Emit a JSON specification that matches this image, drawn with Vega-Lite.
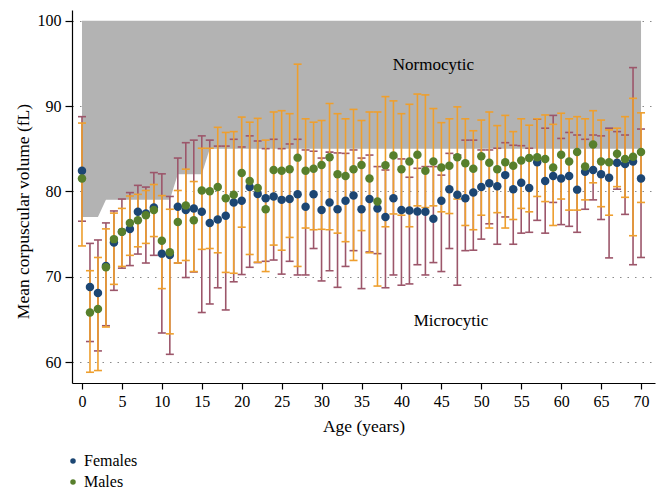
{
  "$schema": "https://vega.github.io/schema/vega-lite/v6.json",
  "width": 583,
  "height": 373,
  "autosize": "none",
  "padding": {"left": 72, "top": 10, "right": 10, "bottom": 113},
  "background": "white",
  "config": {
    "view": {"stroke": null},
    "font": "Liberation Serif",
    "axis": {"labelFont": "Liberation Serif", "titleFont": "Liberation Serif", "labelColor": "black", "titleColor": "black", "domainColor": "black", "tickColor": "black", "titleFontWeight": "normal", "labelFontSize": 16, "titleFontSize": 17.5, "domainWidth": 1.2, "tickWidth": 1.2}
  },
  "datasets": {
    "normo": [
      {"age": 0, "lower": 77}, {"age": 2, "lower": 77}, {"age": 3, "lower": 79}, {"age": 11, "lower": 79},
      {"age": 12, "lower": 82}, {"age": 15, "lower": 82}, {"age": 16, "lower": 85}, {"age": 70, "lower": 85}
    ],
    "labels": [
      {"age": 44, "mcv": 94.8, "label": "Normocytic"},
      {"age": 46.2, "mcv": 64.8, "label": "Microcytic"}
    ],
    "mcv": [
      {"age":0,"sex":"Females","mcv":82.4,"lo":76.5,"hi":88.75},
      {"age":1,"sex":"Females","mcv":68.8,"lo":62.4,"hi":73.9},
      {"age":2,"sex":"Females","mcv":68.1,"lo":61.3,"hi":74.3},
      {"age":3,"sex":"Females","mcv":71.25,"lo":64.25,"hi":76.3},
      {"age":4,"sex":"Females","mcv":74.0,"lo":68.4,"hi":77.7},
      {"age":5,"sex":"Females","mcv":75.25,"lo":71.0,"hi":79.1},
      {"age":6,"sex":"Females","mcv":75.6,"lo":71.3,"hi":79.85},
      {"age":7,"sex":"Females","mcv":77.6,"lo":72.65,"hi":80.7},
      {"age":8,"sex":"Females","mcv":77.4,"lo":71.6,"hi":80.5},
      {"age":9,"sex":"Females","mcv":78.1,"lo":72.5,"hi":82.2},
      {"age":10,"sex":"Females","mcv":72.7,"lo":63.4,"hi":82.05},
      {"age":11,"sex":"Females","mcv":72.55,"lo":60.9,"hi":79.4},
      {"age":12,"sex":"Females","mcv":78.2,"lo":71.6,"hi":83.9},
      {"age":13,"sex":"Females","mcv":77.8,"lo":69.9,"hi":85.7},
      {"age":14,"sex":"Females","mcv":78.0,"lo":70.55,"hi":86.0},
      {"age":15,"sex":"Females","mcv":77.6,"lo":65.8,"hi":86.5},
      {"age":16,"sex":"Females","mcv":76.3,"lo":66.8,"hi":86.0},
      {"age":17,"sex":"Females","mcv":76.7,"lo":68.7,"hi":85.3},
      {"age":18,"sex":"Females","mcv":77.15,"lo":66.1,"hi":85.3},
      {"age":19,"sex":"Females","mcv":78.7,"lo":69.4,"hi":86.1},
      {"age":20,"sex":"Females","mcv":78.9,"lo":70.25,"hi":85.2},
      {"age":21,"sex":"Females","mcv":80.5,"lo":71.1,"hi":86.5},
      {"age":22,"sex":"Females","mcv":79.7,"lo":71.65,"hi":85.9},
      {"age":23,"sex":"Females","mcv":79.2,"lo":71.8,"hi":85.0},
      {"age":24,"sex":"Females","mcv":79.4,"lo":71.95,"hi":86.1},
      {"age":25,"sex":"Females","mcv":79.0,"lo":70.3,"hi":85.0},
      {"age":26,"sex":"Females","mcv":79.1,"lo":71.8,"hi":85.55},
      {"age":27,"sex":"Females","mcv":79.65,"lo":70.2,"hi":86.1},
      {"age":28,"sex":"Females","mcv":78.2,"lo":70.2,"hi":84.85},
      {"age":29,"sex":"Females","mcv":79.65,"lo":73.3,"hi":84.7},
      {"age":30,"sex":"Females","mcv":77.8,"lo":69.5,"hi":83.9},
      {"age":31,"sex":"Females","mcv":78.7,"lo":70.7,"hi":84.6},
      {"age":32,"sex":"Females","mcv":77.9,"lo":68.75,"hi":84.5},
      {"age":33,"sex":"Females","mcv":78.9,"lo":71.2,"hi":84.45},
      {"age":34,"sex":"Females","mcv":79.5,"lo":73.05,"hi":84.85},
      {"age":35,"sex":"Females","mcv":77.9,"lo":68.6,"hi":83.9},
      {"age":36,"sex":"Females","mcv":79.1,"lo":72.9,"hi":84.25},
      {"age":37,"sex":"Females","mcv":78.0,"lo":72.7,"hi":82.9},
      {"age":38,"sex":"Females","mcv":77.0,"lo":68.7,"hi":82.5},
      {"age":39,"sex":"Females","mcv":79.2,"lo":70.2,"hi":84.0},
      {"age":40,"sex":"Females","mcv":77.8,"lo":69.0,"hi":83.8},
      {"age":41,"sex":"Females","mcv":77.75,"lo":69.15,"hi":81.65},
      {"age":42,"sex":"Females","mcv":77.65,"lo":71.4,"hi":82.7},
      {"age":43,"sex":"Females","mcv":77.6,"lo":70.2,"hi":82.9},
      {"age":44,"sex":"Females","mcv":76.8,"lo":71.65,"hi":82.9},
      {"age":45,"sex":"Females","mcv":78.9,"lo":70.6,"hi":81.9},
      {"age":46,"sex":"Females","mcv":80.25,"lo":73.3,"hi":84.45},
      {"age":47,"sex":"Females","mcv":79.6,"lo":69.0,"hi":84.25},
      {"age":48,"sex":"Females","mcv":79.2,"lo":73.05,"hi":86.0},
      {"age":49,"sex":"Females","mcv":79.85,"lo":73.1,"hi":86.0},
      {"age":50,"sex":"Females","mcv":80.5,"lo":74.4,"hi":84.85},
      {"age":51,"sex":"Females","mcv":80.95,"lo":76.2,"hi":84.85},
      {"age":52,"sex":"Females","mcv":80.6,"lo":73.8,"hi":85.05},
      {"age":53,"sex":"Females","mcv":81.9,"lo":77.0,"hi":85.7},
      {"age":54,"sex":"Females","mcv":80.25,"lo":73.8,"hi":85.4},
      {"age":55,"sex":"Females","mcv":81.0,"lo":75.1,"hi":85.35},
      {"age":56,"sex":"Females","mcv":80.4,"lo":75.2,"hi":85.05},
      {"age":57,"sex":"Females","mcv":83.4,"lo":76.6,"hi":88.45},
      {"age":58,"sex":"Females","mcv":81.2,"lo":75.1,"hi":87.4},
      {"age":59,"sex":"Females","mcv":81.8,"lo":78.7,"hi":88.9},
      {"age":60,"sex":"Females","mcv":81.5,"lo":76.1,"hi":86.2},
      {"age":61,"sex":"Females","mcv":81.8,"lo":75.9,"hi":86.9},
      {"age":62,"sex":"Females","mcv":80.2,"lo":75.2,"hi":86.6},
      {"age":63,"sex":"Females","mcv":82.3,"lo":77.9,"hi":86.1},
      {"age":64,"sex":"Females","mcv":82.5,"lo":79.0,"hi":86.6},
      {"age":65,"sex":"Females","mcv":82.0,"lo":76.7,"hi":86.5},
      {"age":66,"sex":"Females","mcv":81.6,"lo":72.2,"hi":87.4},
      {"age":67,"sex":"Females","mcv":83.35,"lo":80.25,"hi":87.0},
      {"age":68,"sex":"Females","mcv":83.2,"lo":77.3,"hi":86.6},
      {"age":69,"sex":"Females","mcv":83.5,"lo":71.4,"hi":94.5},
      {"age":70,"sex":"Females","mcv":81.5,"lo":72.25,"hi":87.3},
      {"age":0,"sex":"Males","mcv":81.5,"lo":73.6,"hi":88.0},
      {"age":1,"sex":"Males","mcv":65.8,"lo":58.8,"hi":70.7},
      {"age":2,"sex":"Males","mcv":66.2,"lo":59.0,"hi":72.25},
      {"age":3,"sex":"Males","mcv":71.1,"lo":64.1,"hi":75.6},
      {"age":4,"sex":"Males","mcv":74.4,"lo":69.1,"hi":77.45},
      {"age":5,"sex":"Males","mcv":75.25,"lo":71.2,"hi":78.0},
      {"age":6,"sex":"Males","mcv":76.3,"lo":72.5,"hi":79.45},
      {"age":7,"sex":"Males","mcv":76.6,"lo":73.5,"hi":79.65},
      {"age":8,"sex":"Males","mcv":77.2,"lo":73.9,"hi":80.1},
      {"age":9,"sex":"Males","mcv":77.8,"lo":74.7,"hi":80.8},
      {"age":10,"sex":"Males","mcv":74.2,"lo":68.6,"hi":79.5},
      {"age":11,"sex":"Males","mcv":72.85,"lo":63.3,"hi":77.9},
      {"age":12,"sex":"Males","mcv":76.4,"lo":71.6,"hi":80.1},
      {"age":13,"sex":"Males","mcv":78.35,"lo":71.9,"hi":82.6},
      {"age":14,"sex":"Males","mcv":76.6,"lo":70.6,"hi":81.15},
      {"age":15,"sex":"Males","mcv":80.1,"lo":73.2,"hi":85.05},
      {"age":16,"sex":"Males","mcv":80.0,"lo":73.3,"hi":85.05},
      {"age":17,"sex":"Males","mcv":80.5,"lo":72.8,"hi":87.5},
      {"age":18,"sex":"Males","mcv":79.2,"lo":70.5,"hi":86.9},
      {"age":19,"sex":"Males","mcv":79.6,"lo":70.4,"hi":87.0},
      {"age":20,"sex":"Males","mcv":82.15,"lo":75.8,"hi":88.7},
      {"age":21,"sex":"Males","mcv":81.2,"lo":72.6,"hi":88.1},
      {"age":22,"sex":"Males","mcv":80.4,"lo":71.7,"hi":88.55},
      {"age":23,"sex":"Males","mcv":77.9,"lo":70.6,"hi":86.0},
      {"age":24,"sex":"Males","mcv":82.5,"lo":73.7,"hi":89.3},
      {"age":25,"sex":"Males","mcv":82.4,"lo":73.1,"hi":89.45},
      {"age":26,"sex":"Males","mcv":82.6,"lo":74.6,"hi":89.1},
      {"age":27,"sex":"Males","mcv":83.95,"lo":71.2,"hi":94.9},
      {"age":28,"sex":"Males","mcv":82.4,"lo":75.7,"hi":88.5},
      {"age":29,"sex":"Males","mcv":82.65,"lo":75.5,"hi":88.1},
      {"age":30,"sex":"Males","mcv":83.1,"lo":75.55,"hi":88.3},
      {"age":31,"sex":"Males","mcv":84.0,"lo":75.5,"hi":90.3},
      {"age":32,"sex":"Males","mcv":82.0,"lo":75.1,"hi":89.1},
      {"age":33,"sex":"Males","mcv":81.8,"lo":74.1,"hi":88.5},
      {"age":34,"sex":"Males","mcv":82.6,"lo":71.9,"hi":89.6},
      {"age":35,"sex":"Males","mcv":83.1,"lo":75.4,"hi":88.3},
      {"age":36,"sex":"Males","mcv":81.5,"lo":72.8,"hi":89.3},
      {"age":37,"sex":"Males","mcv":78.8,"lo":68.9,"hi":89.3},
      {"age":38,"sex":"Males","mcv":83.05,"lo":75.85,"hi":91.1},
      {"age":39,"sex":"Males","mcv":84.2,"lo":77.35,"hi":90.6},
      {"age":40,"sex":"Males","mcv":82.6,"lo":77.2,"hi":89.1},
      {"age":41,"sex":"Males","mcv":83.5,"lo":75.85,"hi":90.2},
      {"age":42,"sex":"Males","mcv":84.3,"lo":78.3,"hi":91.4},
      {"age":43,"sex":"Males","mcv":82.4,"lo":78.1,"hi":91.3},
      {"age":44,"sex":"Males","mcv":83.5,"lo":78.3,"hi":89.7},
      {"age":45,"sex":"Males","mcv":82.8,"lo":77.6,"hi":88.05},
      {"age":46,"sex":"Males","mcv":83.0,"lo":77.4,"hi":88.5},
      {"age":47,"sex":"Males","mcv":84.0,"lo":79.1,"hi":89.9},
      {"age":48,"sex":"Males","mcv":83.3,"lo":76.0,"hi":88.5},
      {"age":49,"sex":"Males","mcv":82.65,"lo":75.5,"hi":87.1},
      {"age":50,"sex":"Males","mcv":84.1,"lo":77.2,"hi":88.35},
      {"age":51,"sex":"Males","mcv":83.35,"lo":75.7,"hi":89.3},
      {"age":52,"sex":"Males","mcv":82.6,"lo":77.5,"hi":87.7},
      {"age":53,"sex":"Males","mcv":83.4,"lo":75.7,"hi":88.9},
      {"age":54,"sex":"Males","mcv":83.0,"lo":76.7,"hi":87.0},
      {"age":55,"sex":"Males","mcv":83.6,"lo":78.0,"hi":88.5},
      {"age":56,"sex":"Males","mcv":83.9,"lo":77.6,"hi":87.75},
      {"age":57,"sex":"Males","mcv":84.0,"lo":79.4,"hi":88.5},
      {"age":58,"sex":"Males","mcv":83.8,"lo":78.8,"hi":88.95},
      {"age":59,"sex":"Males","mcv":82.8,"lo":76.0,"hi":87.85},
      {"age":60,"sex":"Males","mcv":84.3,"lo":79.1,"hi":89.15},
      {"age":61,"sex":"Males","mcv":83.5,"lo":77.8,"hi":88.5},
      {"age":62,"sex":"Males","mcv":84.6,"lo":77.8,"hi":88.75},
      {"age":63,"sex":"Males","mcv":82.9,"lo":79.0,"hi":88.5},
      {"age":64,"sex":"Males","mcv":85.5,"lo":81.0,"hi":89.45},
      {"age":65,"sex":"Males","mcv":83.5,"lo":78.2,"hi":88.35},
      {"age":66,"sex":"Males","mcv":83.4,"lo":77.2,"hi":87.2},
      {"age":67,"sex":"Males","mcv":84.4,"lo":80.55,"hi":87.4},
      {"age":68,"sex":"Males","mcv":83.8,"lo":79.3,"hi":88.75},
      {"age":69,"sex":"Males","mcv":84.05,"lo":74.8,"hi":90.9},
      {"age":70,"sex":"Males","mcv":84.6,"lo":78.7,"hi":89.2}
    ]
  },
  "layer": [
    {
      "data": {"name": "normo"},
      "mark": {"type": "area", "color": "#b3b3b3", "opacity": 1},
      "encoding": {
        "x": {"field": "age", "type": "quantitative", "scale": {"domain": [-1.25, 71.75], "nice": false, "zero": false},
          "axis": {"title": "Age (years)", "values": [0,5,10,15,20,25,30,35,40,45,50,55,60,65,70], "grid": false, "tickSize": 6, "labelPadding": 4, "titlePadding": 8}},
        "y": {"field": "lower", "type": "quantitative", "scale": {"domain": [57.54, 101.25], "nice": false, "zero": false},
          "axis": {"title": "Mean corpuscular volume (fL)", "values": [60,70,80,90,100], "grid": true, "gridDash": [1.5, 6], "gridColor": "#8a8a8a", "gridWidth": 1.2, "tickSize": 7, "labelPadding": 4, "titleX": -44, "titleY": 201, "titleBaseline": "alphabetic", "titleAnchor": "middle"}},
        "y2": {"datum": 100}
      }
    },
    {
      "data": {"name": "mcv"},
      "transform": [{"filter": "datum.sex === 'Females'"}],
      "encoding": {
        "x": {"field": "age", "type": "quantitative"},
        "xOffset": {"field": "sex", "type": "nominal", "scale": {"domain": ["Females", "Males"], "range": [0, 2.5]}}
      },
      "layer": [
        {"mark": {"type": "rule", "strokeWidth": 1.6, "color": "#9c566a", "opacity": 1},
         "encoding": {"y": {"field": "lo", "type": "quantitative"}, "y2": {"field": "hi"}}},
        {"mark": {"type": "tick", "orient": "horizontal", "size": 8, "thickness": 1.6, "color": "#9c566a", "opacity": 1},
         "encoding": {"y": {"field": "lo", "type": "quantitative"}}},
        {"mark": {"type": "tick", "orient": "horizontal", "size": 8, "thickness": 1.6, "color": "#9c566a", "opacity": 1},
         "encoding": {"y": {"field": "hi", "type": "quantitative"}}}
      ]
    },
    {
      "data": {"name": "mcv"},
      "transform": [{"filter": "datum.sex === 'Males'"}],
      "encoding": {
        "x": {"field": "age", "type": "quantitative"},
        "xOffset": {"field": "sex", "type": "nominal", "scale": {"domain": ["Females", "Males"], "range": [0, 2.5]}}
      },
      "layer": [
        {"mark": {"type": "rule", "strokeWidth": 1.6, "color": "#ee9f2e", "opacity": 1},
         "encoding": {"y": {"field": "lo", "type": "quantitative"}, "y2": {"field": "hi"}}},
        {"mark": {"type": "tick", "orient": "horizontal", "size": 8, "thickness": 1.6, "color": "#ee9f2e", "opacity": 1},
         "encoding": {"y": {"field": "lo", "type": "quantitative"}}},
        {"mark": {"type": "tick", "orient": "horizontal", "size": 8, "thickness": 1.6, "color": "#ee9f2e", "opacity": 1},
         "encoding": {"y": {"field": "hi", "type": "quantitative"}}}
      ]
    },
    {
      "data": {"name": "mcv"},
      "mark": {"type": "point", "filled": true, "size": 72, "opacity": 1, "shape": "circle"},
      "encoding": {
        "x": {"field": "age", "type": "quantitative"},
        "xOffset": {"field": "sex", "type": "nominal", "scale": {"domain": ["Females", "Males"], "range": [0, 2.5]}},
        "y": {"field": "mcv", "type": "quantitative"},
        "color": {"field": "sex", "type": "nominal", "scale": {"domain": ["Females", "Males"], "range": ["#1c4673", "#577f2c"]},
          "legend": {"orient": "none", "legendX": -7, "legendY": 443, "title": null, "symbolType": "circle", "symbolSize": 30, "labelFont": "Liberation Serif", "labelFontSize": 16, "labelColor": "black", "rowPadding": 5, "labelOffset": 3, "padding": 0}}
      }
    },
    {
      "data": {"name": "labels"},
      "mark": {"type": "text", "font": "Liberation Serif", "fontSize": 17, "color": "black", "baseline": "middle", "align": "center"},
      "encoding": {
        "x": {"field": "age", "type": "quantitative"},
        "y": {"field": "mcv", "type": "quantitative"},
        "text": {"field": "label"}
      }
    }
  ]
}
